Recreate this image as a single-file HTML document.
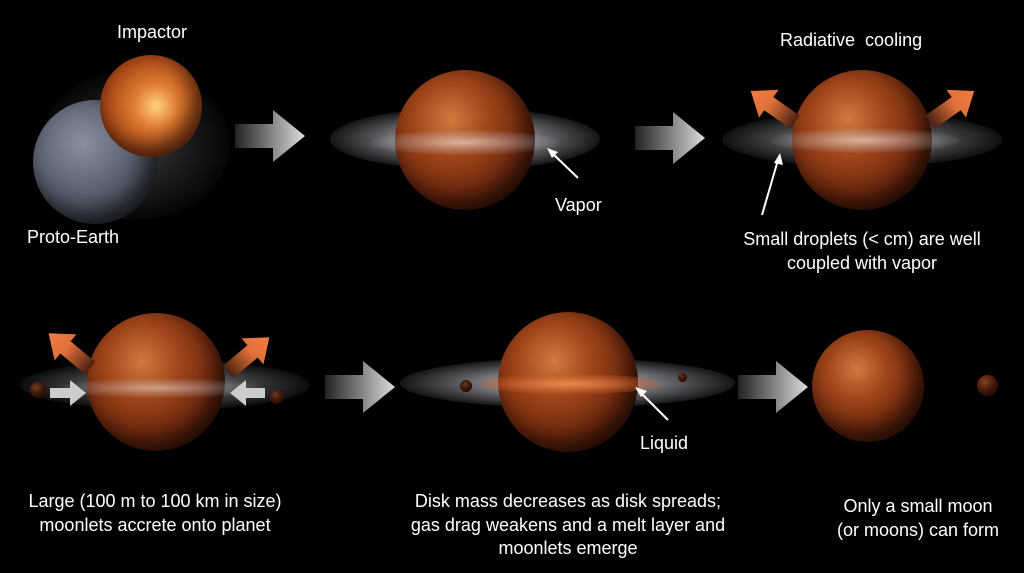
<!DOCTYPE html>
<html><head><meta charset="utf-8"><style>
body{margin:0;background:#000;}
#c{position:relative;width:1024px;height:573px;background:#000;overflow:hidden;font-family:"Liberation Sans",sans-serif;color:#fff;}
.p{position:absolute;border-radius:50%;background:radial-gradient(circle at 40% 35%,#d07a3e 0%,#a0461a 30%,#6e280e 60%,#351006 90%,#1c0700 100%);box-shadow:inset -8px -10px 20px rgba(0,0,0,.6);}
.d{position:absolute;border-radius:50%;background:radial-gradient(ellipse at center,rgba(255,255,255,.9) 0%,rgba(220,220,230,.55) 35%,rgba(150,150,160,.15) 70%,rgba(0,0,0,0) 100%);}
.t{position:absolute;font-size:18px;line-height:24px;white-space:nowrap;}
.ct{position:absolute;font-size:18px;line-height:23.5px;text-align:center;transform:translateX(-50%);white-space:nowrap;}
.ar{position:absolute;}
</style></head><body><div id="c">
<!-- top left -->
<div class="d" style="left:40px;top:70px;width:190px;height:150px;opacity:.25"></div>
<div class="p" style="left:33px;top:100px;width:124px;height:124px;background:radial-gradient(circle at 40% 35%,#8a90a0 0%,#5a6070 45%,#2a2e38 85%,#15171c 100%)"></div>
<div class="p" style="left:100px;top:55px;width:102px;height:102px;background:radial-gradient(circle at 55% 50%,#ffd080 0%,#e07a30 30%,#a84818 65%,#4a1a06 100%)"></div>
<div class="t" style="left:117px;top:20px">Impactor</div>
<div class="t" style="left:27px;top:225px">Proto-Earth</div>
<!-- arrows -->
<svg class="ar" width="1024" height="573" style="left:0;top:0">
<defs><linearGradient id="g" x1="0" x2="1"><stop offset="0" stop-color="#222"/><stop offset="1" stop-color="#ddd"/></linearGradient>
<linearGradient id="o" gradientUnits="userSpaceOnUse" x1="0" y1="0" x2="50" y2="0"><stop offset="0" stop-color="#4a2010"/><stop offset="0.6" stop-color="#e0703a"/><stop offset="1" stop-color="#f07a40"/></linearGradient></defs>
<polygon points="235,124 273,124 273,110 305,136 273,162 273,148 235,148" fill="url(#g)"/>
<polygon points="635,126 673,126 673,112 705,138 673,164 673,150 635,150" fill="url(#g)"/>
<polygon points="325,375 363,375 363,361 395,387 363,413 363,399 325,399" fill="url(#g)"/>
<polygon points="738,375 776,375 776,361 808,387 776,413 776,399 738,399" fill="url(#g)"/>
</svg>
<!-- top middle -->
<div class="d" style="left:330px;top:108px;width:270px;height:62px"></div>
<div class="p" style="left:395px;top:70px;width:140px;height:140px"></div>
<div class="d" style="left:370px;top:130px;width:190px;height:25px;opacity:.6"></div>
<div class="t" style="left:555px;top:193px">Vapor</div>
<svg class="ar" width="1024" height="573" style="left:0;top:0"><line x1="578" y1="178" x2="552" y2="153" stroke="#fff" stroke-width="2"/><polygon points="547,148 558,152 552,158" fill="#fff"/></svg>
<!-- top right -->
<div class="d" style="left:722px;top:112px;width:280px;height:55px;opacity:.7"></div>
<div class="p" style="left:792px;top:70px;width:140px;height:140px"></div>
<div class="d" style="left:770px;top:128px;width:190px;height:25px;opacity:.6"></div>
<svg class="ar" width="1024" height="573" style="left:0;top:0">
<g transform="translate(795,122) rotate(-145)"><polygon points="0,-8 32,-8 32,-17 54,0 32,17 32,8 0,8" fill="url(#o)"/></g>
<g transform="translate(930,122) rotate(-35)"><polygon points="0,-8 32,-8 32,-17 54,0 32,17 32,8 0,8" fill="url(#o)"/></g>
<line x1="762" y1="215" x2="778" y2="160" stroke="#fff" stroke-width="2"/><polygon points="780,153 783,165 774,163" fill="#fff"/>
</svg>
<div class="t" style="left:780px;top:28px">Radiative&nbsp; cooling</div>
<div class="ct" style="left:862px;top:228px">Small droplets (&lt; cm) are well<br>coupled with vapor</div>
<!-- bottom left -->
<div class="d" style="left:20px;top:360px;width:290px;height:50px;opacity:.6"></div>
<div class="p" style="left:87px;top:313px;width:138px;height:138px"></div>
<div class="d" style="left:60px;top:378px;width:200px;height:20px;opacity:.5"></div>
<div class="p" style="left:30px;top:382px;width:16px;height:16px"></div>
<div class="p" style="left:270px;top:390px;width:14px;height:14px"></div>
<svg class="ar" width="1024" height="573" style="left:0;top:0">
<g transform="translate(90,368) rotate(-140)"><polygon points="0,-8 32,-8 32,-17 54,0 32,17 32,8 0,8" fill="url(#o)"/></g>
<g transform="translate(228,372) rotate(-40)"><polygon points="0,-8 32,-8 32,-17 54,0 32,17 32,8 0,8" fill="url(#o)"/></g>
<polygon points="50,388 70,388 70,380 86,393 70,406 70,398 50,398" fill="#ccc"/>
<polygon points="265,388 246,388 246,380 230,393 246,406 246,398 265,398" fill="#ccc"/>
</svg>
<div class="ct" style="left:155px;top:490px">Large (100 m to 100 km in size)<br>moonlets accrete onto planet</div>
<!-- bottom middle -->
<div class="d" style="left:400px;top:358px;width:335px;height:50px"></div>
<div class="p" style="left:498px;top:312px;width:140px;height:140px"></div>
<div class="d" style="left:480px;top:374px;width:180px;height:20px;background:radial-gradient(ellipse,rgba(240,140,80,.9),rgba(200,90,40,.4) 60%,rgba(0,0,0,0))"></div>
<div class="p" style="left:460px;top:380px;width:12px;height:12px"></div>
<div class="p" style="left:678px;top:373px;width:9px;height:9px"></div>
<svg class="ar" width="1024" height="573" style="left:0;top:0"><line x1="668" y1="420" x2="640" y2="392" stroke="#fff" stroke-width="2"/><polygon points="635,387 647,391 641,397" fill="#fff"/></svg>
<div class="t" style="left:640px;top:431px">Liquid</div>
<div class="ct" style="left:568px;top:490px">Disk mass decreases as disk spreads;<br>gas drag weakens and a melt layer and<br>moonlets emerge</div>
<!-- bottom right -->
<div class="p" style="left:812px;top:330px;width:112px;height:112px"></div>
<div class="p" style="left:977px;top:375px;width:21px;height:21px"></div>
<div class="ct" style="left:918px;top:495px">Only a small moon<br>(or moons) can form</div>
</div></body></html>
